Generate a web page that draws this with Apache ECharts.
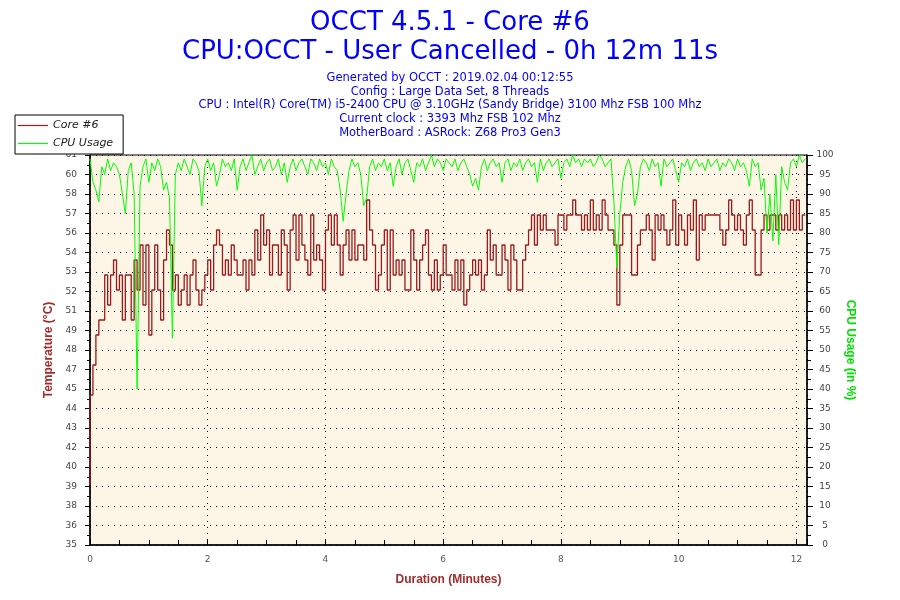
<!DOCTYPE html>
<html>
<head>
<meta charset="utf-8">
<script src="https://cdn.jsdelivr.net/npm/echarts@6/dist/echarts.min.js"></script>
<style>html,body{margin:0;padding:0;background:#fff}#c{width:900px;height:600px}</style>
</head>
<body>
<div id="c"></div>
<script>
// ---- data ----
const SAMPLE_MINUTES = 0.05; // one reading every 3 s
const DURATION_MAX = 12.18;  // 0h 12m 11s
const tempTickLabels = [35,36,38,39,40,42,43,44,45,47,48,49,51,52,53,54,56,57,58,60,61];
const cpuTicks = {min: 0, max: 100, step: 5};
const tempRange = {min: 35, max: 61};
const xTicks = {min: 0, step: 2};

const coreTemp = [
39,45,47,49,50,50,53,51,53,54,
52,53,50,53,53,50,54,52,55,51,
55,49,52,55,52,50,54,56,55,52,
53,51,52,53,51,53,54,52,51,52,
53,54,52,55,56,55,53,54,53,55,
54,53,53,54,52,54,53,56,54,57,
55,56,53,55,55,53,56,55,52,56,
57,54,57,55,54,53,57,54,55,54,
52,56,57,55,57,55,53,55,56,54,
56,54,55,55,54,58,56,55,52,53,
55,56,52,56,53,54,53,54,52,52,
56,54,52,54,55,56,53,52,54,52,
53,55,53,53,52,54,52,54,51,52,
53,54,53,54,52,53,56,54,55,53,
53,55,54,52,55,54,52,52,54,55,
56,57,55,57,56,57,56,56,56,55,
57,57,56,57,57,58,57,57,56,57,
56,58,56,57,56,58,57,56,56,55,
51,55,57,57,57,53,53,55,56,56,
57,56,54,57,56,57,56,55,56,58,
55,57,56,55,57,56,58,54,57,56,
57,57,57,57,57,56,55,56,58,57,
56,57,56,55,57,58,56,53,53,56,
57,56,57,57,56,57,56,57,56,58,
56,58,56,57
];

const cpuUsage = [
99,93,91,88,97,95,99,96,98,97,
95,90,85,96,98,90,40,92,97,99,
93,98,96,99,97,91,93,89,53,95,
98,96,99,97,95,99,98,96,87,97,
99,96,98,92,95,99,97,98,96,99,
91,97,99,96,98,100,95,97,99,96,
98,99,96,97,99,95,98,93,97,99,
96,98,99,97,95,99,98,96,99,97,
98,95,99,97,96,91,83,90,96,99,
97,98,95,87,89,97,99,96,98,97,
99,96,98,92,97,99,95,98,99,96,
93,98,97,99,96,98,100,97,99,98,
96,99,98,97,99,96,98,99,97,95,
92,94,91,97,99,96,98,99,97,98,
93,98,99,96,98,97,99,96,98,99,
97,98,93,99,96,98,99,97,98,99,
94,98,99,97,100,98,99,97,99,98,
99,97,98,100,99,97,98,99,88,71,
85,93,97,99,96,87,90,97,99,98,
96,99,97,98,92,99,97,98,99,96,
93,98,97,99,96,98,99,97,98,96,
99,97,98,99,96,98,97,99,98,96,
99,97,98,96,92,99,97,98,91,94,
80,90,78,95,77,97,93,91,98,99,
97,100,98,99
];

const titleLines = ['OCCT 4.5.1 - Core #6', 'CPU:OCCT - User Cancelled - 0h 12m 11s'];
const infoLines = [
  'Generated by OCCT : 2019.02.04 00:12:55',
  'Config : Large Data Set, 8 Threads',
  'CPU : Intel(R) Core(TM) i5-2400 CPU @ 3.10GHz (Sandy Bridge) 3100 Mhz FSB 100 Mhz',
  'Current clock : 3393 Mhz FSB 102 Mhz',
  'MotherBoard : ASRock: Z68 Pro3 Gen3'
];
const seriesNames = ['Core #6', 'CPU Usage'];

// ---- chart ----
const FONT = 'DejaVu Sans';
const tempSeries = coreTemp.map((v, i) => [i * SAMPLE_MINUTES, v]);
const cpuSeries = cpuUsage.map((v, i) => [i * SAMPLE_MINUTES, v]);
const dots = [1, 5];

const chart = echarts.init(document.getElementById('c'), null, {renderer: 'canvas'});
chart.setOption({
  animation: false,
  backgroundColor: '#ffffff',
  title: [
    {text: titleLines.join('\n'), left: 'center', top: 3,
     textStyle: {color: '#0000ff', fontFamily: FONT, fontSize: 26, fontWeight: 'normal', lineHeight: 29.5}},
    {text: infoLines.join('\n'), left: 'center', top: 66,
     textStyle: {color: '#0000ff', fontFamily: FONT, fontSize: 11.5, fontWeight: 'normal', lineHeight: 13.75, align: 'center'}}
  ],
  legend: {
    orient: 'vertical', left: 15, top: 115, icon: 'rect',
    backgroundColor: '#ffffff', borderColor: '#000000', borderWidth: 1, borderRadius: 0,
    padding: [4, 10, 4, 3], itemWidth: 30, itemHeight: 1.2, itemGap: 5,
    textStyle: {fontFamily: FONT, fontSize: 11, fontStyle: 'italic', color: '#222', lineHeight: 13},
    data: seriesNames
  },
  grid: {left: 90, right: 93, top: 155, bottom: 55, show: true,
         backgroundColor: '#fdf5e6', borderColor: '#000', borderWidth: 1},
  xAxis: {
    type: 'value', min: xTicks.min, max: DURATION_MAX, interval: xTicks.step,
    name: 'Duration (Minutes)', nameLocation: 'middle', nameGap: 29,
    nameTextStyle: {color: '#a52a2a', fontFamily: 'Liberation Sans', fontWeight: 'bold', fontSize: 12},
    axisLine: {lineStyle: {color: '#000', width: 1.5}},
    axisTick: {inside: true, length: 5, lineStyle: {color: '#000'}},
    minorTick: {show: true, splitNumber: 4, length: 5, lineStyle: {color: '#000'}},
    axisLabel: {color: '#555', fontFamily: FONT, fontSize: 9, margin: 10},
    splitLine: {show: true, lineStyle: {color: '#000', type: dots, width: 1}}
  },
  yAxis: [
    { // left: temperature tick labels aligned to the shared grid
      type: 'value', position: 'left', min: cpuTicks.min, max: cpuTicks.max, interval: cpuTicks.step,
      name: 'Temperature (°C)', nameLocation: 'middle', nameGap: 32,
      nameTextStyle: {color: '#a52a2a', fontFamily: 'Liberation Sans', fontWeight: 'bold', fontSize: 12},
      axisLine: {show: true, lineStyle: {color: '#000', width: 1.5}},
      axisTick: {show: true, length: 5, lineStyle: {color: '#000'}},
      minorTick: {show: true, splitNumber: 2, length: 3, lineStyle: {color: '#000'}},
      axisLabel: {color: '#444', fontFamily: FONT, fontSize: 9, margin: 13,
                  formatter: (v) => String(tempTickLabels[Math.round(v / cpuTicks.step)])},
      splitLine: {show: false}
    },
    { // right: CPU usage
      type: 'value', position: 'right', min: cpuTicks.min, max: cpuTicks.max, interval: cpuTicks.step,
      name: 'CPU Usage (in %)', nameLocation: 'middle', nameGap: 36, nameRotate: -90,
      nameTextStyle: {color: '#00e000', fontFamily: 'Liberation Sans', fontWeight: 'bold', fontSize: 12},
      axisLine: {show: true, lineStyle: {color: '#000', width: 1.5}},
      axisTick: {show: true, length: 6, lineStyle: {color: '#000'}},
      minorTick: {show: true, splitNumber: 2, length: 4, lineStyle: {color: '#000'}},
      axisLabel: {color: '#444', fontFamily: FONT, fontSize: 9, margin: 18, align: 'center'},
      splitLine: {show: true, lineStyle: {color: '#000', type: dots, width: 1}}
    },
    { // hidden temperature scale
      type: 'value', position: 'left', min: tempRange.min, max: tempRange.max, show: false,
      splitLine: {show: false}
    }
  ],
  series: [
    {name: seriesNames[0], type: 'line', yAxisIndex: 2, step: 'start', symbol: 'none',
     lineStyle: {color: '#a01818', width: 1.3}, itemStyle: {color: '#a01818'}, data: tempSeries},
    {name: seriesNames[1], type: 'line', yAxisIndex: 1, symbol: 'none',
     lineStyle: {color: '#00ff00', width: 1}, itemStyle: {color: '#00ff00'}, data: cpuSeries}
  ]
});
</script>
</body>
</html>
